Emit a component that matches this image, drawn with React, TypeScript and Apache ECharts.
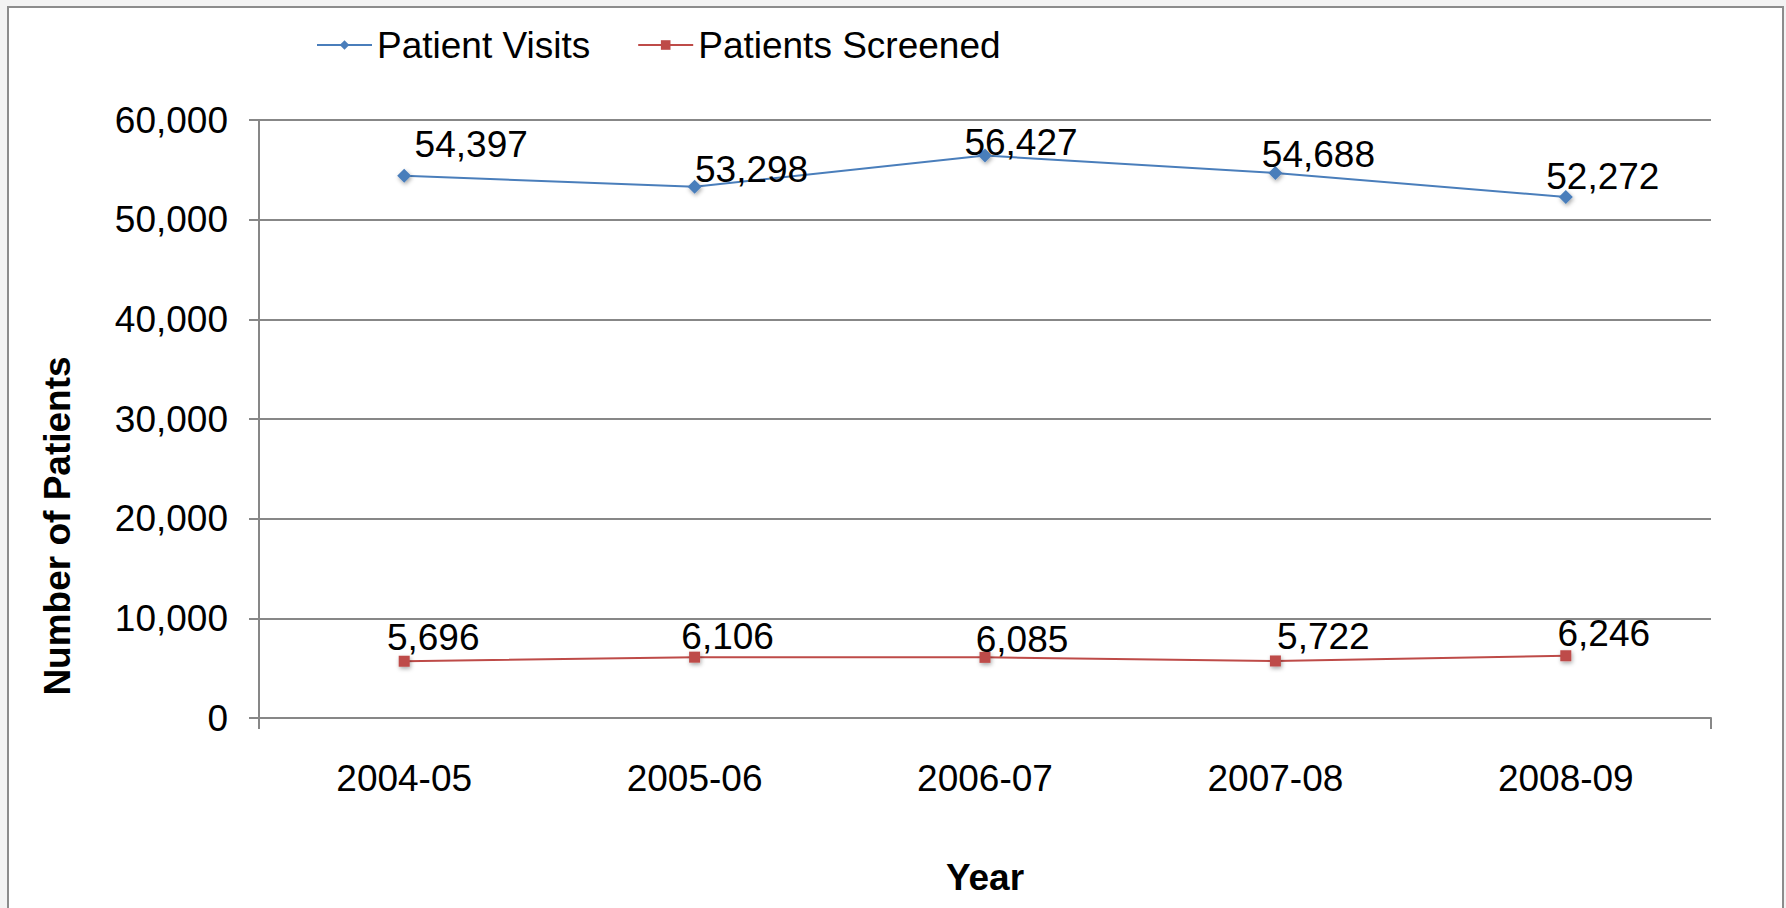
import React, { useEffect, useRef } from "react";
import * as echarts from "echarts";

const years = ["2004-05", "2005-06", "2006-07", "2007-08", "2008-09"];
const patientVisits = [54397, 53298, 56427, 54688, 52272];
const patientsScreened = [5696, 6106, 6085, 5722, 6246];
const yTicks = { min: 0, max: 60000, interval: 10000 };

// label nudges (px) relative to the default "top" position
const visitsLabelNudge = [[67, 1], [57, 15], [36, 19], [43, 14], [37, 11]];
const screenedLabelNudge = [[29, 7], [33, 10], [37, 13], [48, 6], [38, 8]];

const FONT = "Liberation Sans, Arial, sans-serif";
const AXIS_GREY = "#878787";
const BLUE = "#4a7ebb";
const RED = "#be4b48";

const fmt = (v: number) => v.toLocaleString("en-US");

export default function App() {
  const ref = useRef<HTMLDivElement>(null);
  useEffect(() => {
    if (!ref.current) return;
    const chart = echarts.init(ref.current, undefined, { renderer: "svg" });
    const mkData = (vals: number[], nudges: number[][]) =>
      vals.map((v, i) => ({
        value: v,
        label: { offset: nudges[i] },
      }));
    const labelStyle = {
      show: true,
      position: "top",
      distance: 5,
      fontFamily: FONT,
      fontSize: 37,
      lineHeight: 40,
      color: "#000",
      formatter: (p: any) => fmt(p.value),
    };
    chart.setOption({
      animation: false,
      backgroundColor: "#f3f3f3",
      textStyle: { fontFamily: FONT },
      graphic: [
        {
          type: "rect",
          z: -10,
          silent: true,
          shape: { x: 8, y: 7, width: 1775, height: 920 },
          style: { fill: "#ffffff", stroke: "#8c8c8c", lineWidth: 2 },
        },
        {
          type: "text",
          x: 57,
          y: 526,
          rotation: Math.PI / 2,
          style: {
            text: "Number of Patients",
            fontFamily: FONT,
            fontSize: 37,
            fontWeight: "bold",
            fill: "#000",
            align: "center",
            verticalAlign: "middle",
          },
        },
      ],
      legend: {
        left: 311,
        top: 20,
        itemWidth: 55,
        itemHeight: 12,
        itemGap: 47,
        textStyle: { fontFamily: FONT, fontSize: 37, lineHeight: 40, color: "#000" },
        data: ["Patient Visits", "Patients Screened"],
      },
      grid: { left: 259, right: 75, top: 120, bottom: 190, containLabel: false },
      xAxis: {
        type: "category",
        data: years,
        boundaryGap: true,
        name: "Year",
        nameLocation: "middle",
        nameGap: 141,
        nameTextStyle: { fontFamily: FONT, fontSize: 37, fontWeight: "bold", color: "#000", verticalAlign: "top" },
        axisLine: { show: true, lineStyle: { color: AXIS_GREY, width: 2 } },
        axisTick: { show: true, length: 11, interval: (i: number) => i === 0, lineStyle: { color: AXIS_GREY, width: 2 } },
        axisLabel: { interval: 0, margin: 42, fontFamily: FONT, fontSize: 37, color: "#000" },
        splitLine: { show: false },
      },
      yAxis: {
        type: "value",
        min: yTicks.min,
        max: yTicks.max,
        interval: yTicks.interval,
        axisLine: { show: true, lineStyle: { color: AXIS_GREY, width: 2 } },
        axisTick: { show: true, length: 10, lineStyle: { color: AXIS_GREY, width: 2 } },
        axisLabel: { margin: 31, fontFamily: FONT, fontSize: 37, color: "#000", formatter: (v: number) => fmt(v) },
        splitLine: { show: true, lineStyle: { color: AXIS_GREY, width: 2 } },
      },
      series: [
        {
          name: "Patient Visits",
          type: "line",
          data: mkData(patientVisits, visitsLabelNudge),
          symbol: "diamond",
          symbolSize: 14,
          color: BLUE,
          lineStyle: { color: BLUE, width: 2 },
          itemStyle: { color: BLUE, shadowColor: "rgba(0,0,0,0.35)", shadowBlur: 4, shadowOffsetX: 1, shadowOffsetY: 2 },
          label: labelStyle,
        },
        {
          name: "Patients Screened",
          type: "line",
          data: mkData(patientsScreened, screenedLabelNudge),
          symbol: "rect",
          symbolSize: 11,
          color: RED,
          lineStyle: { color: RED, width: 2 },
          itemStyle: { color: RED, shadowColor: "rgba(0,0,0,0.35)", shadowBlur: 4, shadowOffsetX: 1, shadowOffsetY: 2 },
          label: labelStyle,
        },
      ],
    });
    return () => chart.dispose();
  }, []);
  return (
    <div style={{ position: "fixed", left: 0, top: 0, width: 1786, height: 908 }}>
      <div ref={ref} style={{ width: 1786, height: 908 }} />
    </div>
  );
}
